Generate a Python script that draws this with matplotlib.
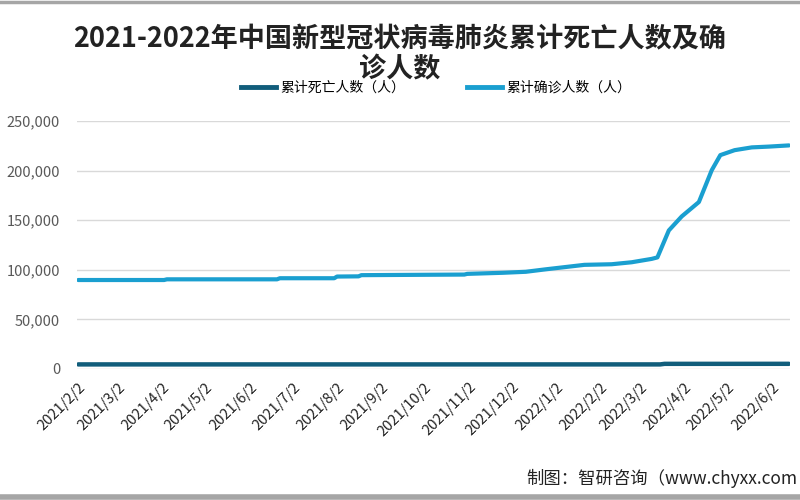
#!/usr/bin/env python3
"""Cumulative COVID-19 deaths and confirmed cases in China, 2021-2022."""

import matplotlib

matplotlib.use("Agg")
import matplotlib.dates as mdates
import matplotlib.pyplot as plt
from matplotlib.lines import Line2D
from matplotlib.ticker import FixedLocator, FuncFormatter
import numpy as np

plt.rcParams["font.family"] = ["Noto Sans CJK SC", "DejaVu Sans"]

# confirmed cases
confirmed_dates = [
    "2021-02-02", "2021-04-03", "2021-04-05", "2021-06-21", "2021-06-23",
    "2021-07-31", "2021-08-02", "2021-08-17", "2021-08-19", "2021-10-30",
    "2021-11-01", "2021-11-26", "2021-12-12", "2021-12-26", "2022-01-10",
    "2022-01-22", "2022-02-10", "2022-02-24", "2022-03-10", "2022-03-14",
    "2022-03-22", "2022-03-31", "2022-04-12", "2022-04-21", "2022-04-27",
    "2022-05-07", "2022-05-19", "2022-05-31", "2022-06-14",
]
confirmed = [
    89700, 89700, 90400, 90400, 91500,
    91500, 93200, 93400, 94600, 95200,
    95900, 97000, 98000, 100500, 103000,
    105000, 105600, 107600, 111000, 112500,
    139700, 153800, 168300, 200400, 215600,
    220600, 223400, 224200, 225400,
]

# cumulative deaths
death_dates = ["2021-02-02", "2022-03-16", "2022-03-19", "2022-05-01", "2022-06-14"]
deaths = [4636, 4636, 5200, 5200, 5226]

tick_dates = [
    "2021-02-02", "2021-03-02", "2021-04-02", "2021-05-02", "2021-06-02",
    "2021-07-02", "2021-08-02", "2021-09-02", "2021-10-02", "2021-11-02",
    "2021-12-02", "2022-01-02", "2022-02-02", "2022-03-02", "2022-04-02",
    "2022-05-02", "2022-06-02",
]
tick_labels = [
    "2021/2/2", "2021/3/2", "2021/4/2", "2021/5/2", "2021/6/2", "2021/7/2",
    "2021/8/2", "2021/9/2", "2021/10/2", "2021/11/2", "2021/12/2", "2022/1/2",
    "2022/2/2", "2022/3/2", "2022/4/2", "2022/5/2", "2022/6/2",
]

DEATH_COLOR = "#115d7b"
CONFIRMED_COLOR = "#1a9fd0"


def main() -> int:
    fig = plt.figure(figsize=(8, 5), dpi=100)
    fig.patch.set_facecolor("white")
    ax = fig.add_axes([0.096, 0.262, 0.892, 0.496])

    cd = np.array(confirmed_dates, dtype="datetime64[D]")
    dd = np.array(death_dates, dtype="datetime64[D]")
    ax.plot(dd, deaths, color=DEATH_COLOR, linewidth=3.2, solid_capstyle="round")
    ax.plot(cd, confirmed, color=CONFIRMED_COLOR, linewidth=3.0, solid_capstyle="round")

    ax.set_xlim(np.datetime64("2021-02-01"), np.datetime64("2022-06-15"))
    ax.set_ylim(0, 250000)
    ax.set_yticks(range(0, 250001, 50000))
    ax.yaxis.set_major_formatter(FuncFormatter(lambda v, _: f"{int(v):,}"))
    ax.grid(axis="y", color="#d9d9d9", linewidth=1.0)
    ax.set_axisbelow(True)
    for side in ("top", "right", "left", "bottom"):
        ax.spines[side].set_visible(False)

    ticks = np.array(tick_dates, dtype="datetime64[D]")
    ax.xaxis.set_major_locator(FixedLocator(mdates.date2num(ticks)))
    ax.set_xticklabels(tick_labels, rotation=45, ha="right", rotation_mode="anchor",
                       fontsize=10.5, color="#222222")
    ax.tick_params(axis="x", length=0, pad=8)
    ax.tick_params(axis="y", length=0, labelsize=10.5, labelcolor="#595959", pad=12)

    # title wraps onto a second line, as in the original
    title_kw = dict(fontsize=19.5, fontweight="bold", color="#222222",
                    ha="center", va="center")
    fig.text(0.5, 0.922, "2021-2022年中国新型冠状病毒肺炎累计死亡人数及确", **title_kw)
    fig.text(0.5, 0.862, "诊人数", **title_kw)

    handles = [
        Line2D([], [], color=DEATH_COLOR, linewidth=3.5),
        Line2D([], [], color=CONFIRMED_COLOR, linewidth=3.5),
    ]
    fig.legend(handles, ["累计死亡人数（人）", "累计确诊人数（人）"],
               loc="center", bbox_to_anchor=(0.545, 0.824), ncol=2, frameon=False,
               fontsize=10, handlelength=2.5, handletextpad=0.3, columnspacing=4.5)

    # source note, running up to the right edge as in the original
    fig.text(0.997, 0.044, "制图：智研咨询（www.chyxx.com", fontsize=12.5,
             color="#222222", va="center", ha="right")

    fig.add_artist(Line2D([0, 1], [0.997, 0.997], color="#a6a6a6", linewidth=2.5))
    fig.add_artist(Line2D([0, 1], [0.006, 0.006], color="#a6a6a6", linewidth=4))

    fig.savefig("out.png", dpi=100, facecolor="white")
    plt.close(fig)
    return 0


if __name__ == "__main__":
    raise SystemExit(main())
